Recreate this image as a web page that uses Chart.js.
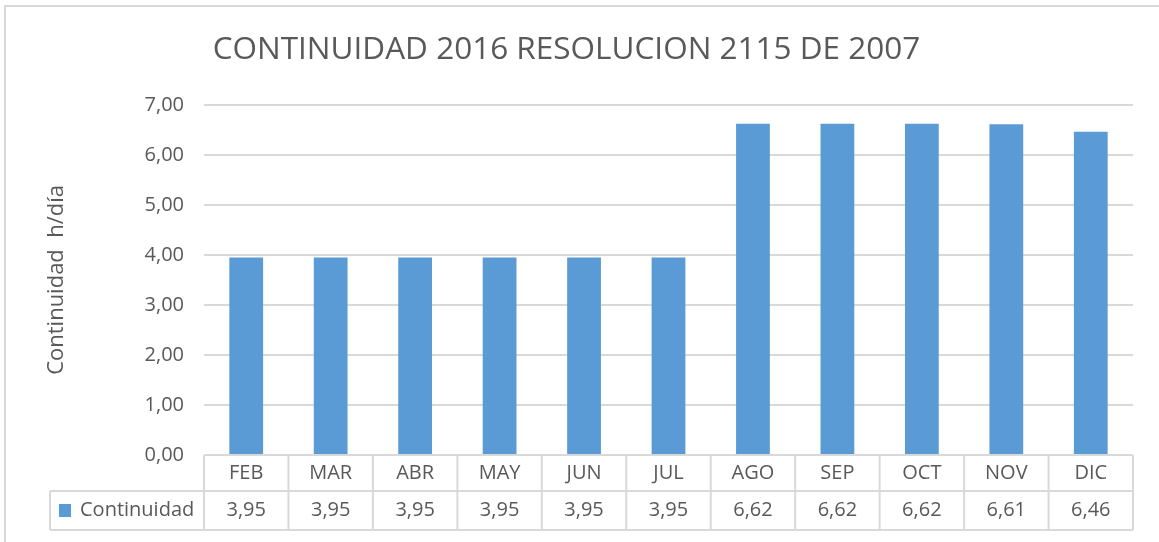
<!DOCTYPE html>
<html>
<head>
<meta charset="utf-8">
<script src="https://cdn.jsdelivr.net/npm/chart.js@4.4.1/dist/chart.umd.min.js"></script>
<style>
  html, body { margin: 0; padding: 0; background: #ffffff; }
  #wrap { width: 1159px; height: 542px; position: relative; }
</style>
</head>
<body>
<div id="wrap"><canvas id="c" width="1159" height="542"></canvas></div>
<script>
// ---- data ----
const categories = ['FEB','MAR','ABR','MAY','JUN','JUL','AGO','SEP','OCT','NOV','DIC'];
const seriesName = 'Continuidad';
const values = [3.95, 3.95, 3.95, 3.95, 3.95, 3.95, 6.62, 6.62, 6.62, 6.61, 6.46];
const chartTitle = 'CONTINUIDAD 2016 RESOLUCION 2115 DE 2007';
const yAxisTitle = 'Continuidad  h/día';

const barColor = '#5B9BD5';
const textColor = '#595959';
const lineColor = '#D9D9D9';
const fmt = v => v.toFixed(2).replace('.', ',');

const frame = {
  id: 'frame',
  beforeDraw(chart) {
    const ctx = chart.ctx;
    ctx.save();
    ctx.fillStyle = '#ffffff';
    ctx.fillRect(0, 0, chart.width, chart.height);
    ctx.strokeStyle = lineColor;
    ctx.lineWidth = 2;
    ctx.beginPath();
    ctx.moveTo(5, chart.height);
    ctx.lineTo(5, 6);
    ctx.lineTo(chart.width, 6);
    ctx.stroke();
    ctx.restore();
  }
};

const dataTable = {
  id: 'dataTable',
  afterDraw(chart) {
    const ctx = chart.ctx;
    const {left, right, bottom} = chart.chartArea;
    const x = chart.scales.x;
    const n = categories.length;
    const half = (x.getPixelForValue(1) - x.getPixelForValue(0)) / 2;
    const r1Top = bottom, r1Bot = bottom + 36, r2Bot = bottom + 75;
    const keyLeft = 50;
    ctx.save();
    ctx.strokeStyle = lineColor;
    ctx.lineWidth = 2;
    const seg = (x1, y1, x2, y2) => { ctx.beginPath(); ctx.moveTo(x1, y1); ctx.lineTo(x2, y2); ctx.stroke(); };
    seg(left, r1Top, right, r1Top);
    seg(keyLeft, r1Bot, right, r1Bot);
    seg(keyLeft, r2Bot, right, r2Bot);
    seg(keyLeft, r1Bot, keyLeft, r2Bot);
    for (let i = 0; i <= n; i++) {
      const xb = i < n ? x.getPixelForValue(i) - half : x.getPixelForValue(n - 1) + half;
      seg(xb, r1Top, xb, r2Bot);
    }
    ctx.font = '20px "Open Sans"';
    ctx.fillStyle = textColor;
    ctx.textAlign = 'center';
    ctx.textBaseline = 'middle';
    for (let i = 0; i < n; i++) {
      const cx = x.getPixelForValue(i);
      ctx.fillText(categories[i], cx, (r1Top + r1Bot) / 2);
      ctx.fillText(fmt(values[i]), cx, (r1Bot + r2Bot) / 2);
    }
    ctx.fillStyle = barColor;
    ctx.fillRect(59, 504, 12, 13);
    ctx.fillStyle = textColor;
    ctx.textAlign = 'left';
    ctx.fillText(seriesName, 80, (r1Bot + r2Bot) / 2);
    ctx.restore();
  }
};

new Chart(document.getElementById('c'), {
  type: 'bar',
  data: {
    labels: categories,
    datasets: [{
      label: seriesName,
      data: values,
      backgroundColor: barColor,
      borderWidth: 0,
      barPercentage: 0.4,
      categoryPercentage: 1.0
    }]
  },
  options: {
    responsive: false,
    animation: false,
    devicePixelRatio: 1,
    layout: { padding: { left: 0, right: 26, top: 0, bottom: 87 } },
    plugins: {
      legend: { display: false },
      tooltip: { enabled: false },
      title: {
        display: true,
        text: chartTitle,
        color: textColor,
        font: { family: '"Open Sans"', size: 31.5, weight: 'normal', lineHeight: 1.2 },
        padding: { top: 31, bottom: 36 }
      }
    },
    scales: {
      x: { display: false },
      y: {
        min: 0, max: 7,
        ticks: {
          stepSize: 1,
          color: textColor,
          font: { family: '"Open Sans"', size: 20 },
          padding: 20,
          callback: v => fmt(v)
        },
        grid: { color: lineColor, lineWidth: 2, drawTicks: false },
        border: { display: false },
        title: {
          display: true,
          text: yAxisTitle,
          color: textColor,
          font: { family: '"Open Sans"', size: 22, lineHeight: 1.2 },
          padding: { top: 44, bottom: 0 }
        },
        afterFit(scale) { scale.width = 204; }
      }
    }
  },
  plugins: [frame, dataTable]
});
</script>
</body>
</html>
